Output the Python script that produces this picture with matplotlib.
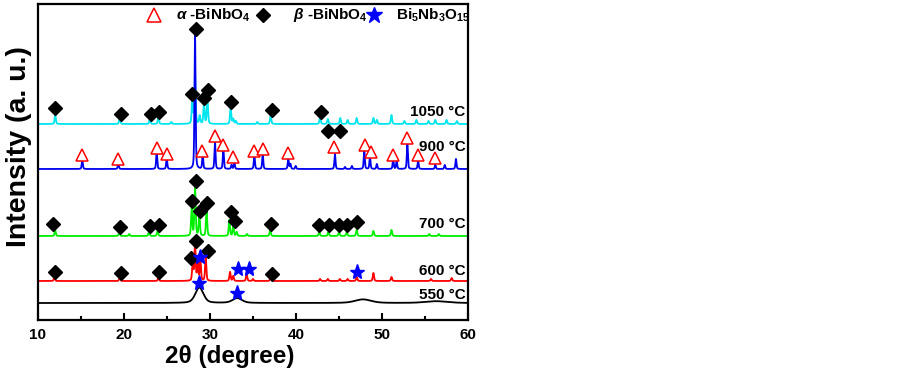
import numpy as np
import matplotlib.pyplot as plt

plt.rcParams['font.family'] = ['Liberation Sans', 'DejaVu Sans']
plt.rcParams['font.weight'] = 'bold'
plt.rcParams['mathtext.fontset'] = 'custom'
plt.rcParams['mathtext.rm'] = 'Liberation Sans:bold'
plt.rcParams['mathtext.it'] = 'Liberation Sans:italic'
plt.rcParams['mathtext.bf'] = 'Liberation Sans:bold'

# peak lists: 2theta, height, width (deg), offset of each pattern
pk_550_pos = [28.76, 33.17, 47.8, 56.3]
pk_550_h = [15.5, 4.8, 3.6, 1.8]
pk_550_w = [1.1, 1.3, 2.2, 3.0]
off_550 = 17

pk_600_pos = [11.9, 19.5, 24.0, 27.99, 28.26, 28.57, 28.88, 29.5, 32.33, 32.7, 34.26, 35.0,
              37.05, 42.8, 43.7, 45.1, 46.0, 47.06, 49.0, 51.1, 55.7, 58.1]
pk_600_h = [3.4, 3, 3, 18, 38, 17, 21, 25, 9, 5, 7.4, 2,
            3.4, 2, 2, 2, 2, 4, 8, 4, 2, 3]
off_600 = 39

pk_700_pos = [12.0, 19.45, 20.6, 22.9, 23.9, 27.87, 28.26, 28.76, 29.6, 32.25, 32.7, 33.1,
              34.3, 37.0, 42.7, 43.76, 45.0, 45.9, 47.05, 49.0, 51.1, 55.5, 56.6]
pk_700_h = [5.7, 4, 2, 4, 5, 27, 50.7, 22, 26, 16, 10, 4,
            2, 6.4, 4, 4, 4, 4, 6, 5, 6, 2, 2]
off_700 = 84

pk_900_pos = [15.15, 19.34, 23.8, 24.97, 28.26, 29.15, 30.58, 31.55, 32.5, 32.83, 35.16, 36.13,
              39.1, 39.35, 39.96, 44.53, 45.7, 46.5, 47.94, 48.6, 49.4, 51.3, 51.7, 52.95,
              54.2, 56.2, 57.3, 58.6]
pk_900_h = [9.5, 6, 17, 11, 134, 14, 27, 20, 4, 7, 14, 15,
            10, 5, 3, 15, 2, 3, 19, 12, 5, 9.5, 8, 24.7,
            8.5, 4, 4, 10]
off_900 = 151

pk_1050_pos = [12.0, 19.5, 23.0, 24.0, 25.5, 27.95, 28.26, 28.8, 29.3, 29.7, 32.4, 32.7,
               33.0, 35.5, 37.05, 42.8, 43.7, 45.15, 46.0, 47.05, 49.0, 49.4, 51.1, 52.6,
               54.0, 55.4, 56.2, 57.5, 58.7]
pk_1050_h = [9, 6, 5, 7, 2, 27, 47, 8, 21, 26, 17, 5,
             3, 2, 9, 7, 5, 6, 4, 6, 6, 4, 9, 3,
             4, 3, 4, 4, 3]
off_1050 = 196

# phase markers (2theta, y)
tri_x = [15.15, 19.34, 23.8, 24.97, 29.1, 30.58, 31.55, 32.7, 35.1, 36.13, 39.1, 44.4,
         48.0, 48.7, 51.3, 52.95, 54.2, 56.2]
tri_y = [165, 161, 171.7, 166, 169.3, 184, 175, 162.7, 169.3, 170.7, 167.3, 172.7,
         175, 168, 165, 181.7, 165, 161.7]

dia_x = [11.98, 19.6, 23.1, 24.1, 27.87, 28.37, 29.3, 29.8, 32.44, 37.17, 42.87,
         43.76, 45.1,
         11.8, 19.53, 23.0, 24.1, 27.87, 28.34, 28.84, 29.62, 32.4, 32.94, 37.1, 42.7,
         43.8, 45.0, 45.9, 47.06,
         11.98, 19.65, 24.07, 27.79, 28.37, 29.8, 37.17]
dia_y = [212, 206, 206, 208, 226, 291, 222, 230, 218, 210, 208,
         189.3, 189.3,
         95.7, 93.3, 94, 94.7, 119, 139, 109.3, 117.3, 108.3, 99.3, 96, 95,
         95, 95, 95, 97.7,
         48.3, 46.7, 48.3, 61.7, 79.3, 69.3, 46]

star_x = [28.84, 33.2, 34.5, 47.06, 28.76, 33.1]
star_y = [62.7, 51, 50.7, 47.7, 37.3, 27.3]

temps = ['550 °C', '600 °C', '700 °C', '900 °C', '1050 °C']
temp_y = [25, 49, 96, 173, 208]

x = np.linspace(10, 60, 6001)


def pattern(pos, h, w, off):
    y = np.zeros_like(x) + off
    for p, a, ww in zip(pos, h, w):
        g = np.exp(-4 * np.log(2) * ((x - p) / ww) ** 2)
        l = 1 / (1 + ((x - p) / (ww / 2)) ** 2)
        y += a * (0.6 * g + 0.4 * l)
    return y


fig = plt.figure(figsize=(9.03, 3.75), dpi=100)
ax = fig.add_axes([38 / 903, 55 / 375, 430 / 903, 316 / 375])

sharp = 0.17
ax.plot(x, pattern(pk_550_pos, pk_550_h, pk_550_w, off_550), color='black', lw=1.3)
ax.plot(x, pattern(pk_600_pos, pk_600_h, [sharp] * len(pk_600_pos), off_600), color='red', lw=1.3)
ax.plot(x, pattern(pk_700_pos, pk_700_h, [sharp] * len(pk_700_pos), off_700), color='#00ee00', lw=1.3)
ax.plot(x, pattern(pk_1050_pos, pk_1050_h, [sharp] * len(pk_1050_pos), off_1050), color='#00e5ee', lw=1.3)
ax.plot(x, pattern(pk_900_pos, pk_900_h, [0.15] * len(pk_900_pos), off_900), color='#0000ee', lw=1.3)

ax.plot(tri_x, tri_y, ls='none', marker='^', ms=8.5, mfc='white', mec='red', mew=1.1)
ax.plot(dia_x, dia_y, ls='none', marker='D', ms=7.2, mfc='black', mec='black')
ax.plot(star_x, star_y, ls='none', marker='*', ms=11, mfc='blue', mec='blue')

for t, ty in zip(temps, temp_y):
    ax.text(59.7, ty, t, ha='right', va='center', fontsize=11, fontweight='bold')

# legend row at the top
ax.plot([23.5], [305], ls='none', marker='^', ms=9.5, mfc='white', mec='red', mew=1.1, clip_on=False)
ax.plot([36.16], [305], ls='none', marker='D', ms=7.5, mfc='black', mec='black', clip_on=False)
ax.plot([49.07], [305], ls='none', marker='*', ms=12, mfc='blue', mec='blue', clip_on=False)
ax.text(26.1, 305, r'$\alpha$ -BiNbO$_4$', fontsize=11, fontweight='bold', va='center')
ax.text(39.6, 305, r'$\beta$ -BiNbO$_4$', fontsize=11, fontweight='bold', va='center')
ax.text(51.6, 305, r'Bi$_5$Nb$_3$O$_{15}$', fontsize=11, fontweight='bold', va='center')

ax.set_xlim(10, 60)
ax.set_ylim(0, 316)
ax.set_xticks([10, 20, 30, 40, 50, 60])
ax.set_xticks([15, 25, 35, 45, 55], minor=True)
ax.set_yticks([])
ax.tick_params(axis='x', which='major', direction='in', length=5, width=1.5, labelsize=11, pad=6)
ax.tick_params(axis='x', which='minor', direction='in', length=3, width=1.5)
for lbl in ax.get_xticklabels():
    lbl.set_fontweight('bold')
for s in ax.spines.values():
    s.set_linewidth(1.6)

ax.set_xlabel('2θ (degree)', fontsize=17.5, fontweight='bold')
ax.xaxis.set_label_coords(0.447, -0.08)
ax.set_ylabel('Intensity (a. u.)', fontsize=20.5, fontweight='bold')
ax.yaxis.set_label_coords(-0.014, 0.55)

fig.savefig('out.png', dpi=100)
